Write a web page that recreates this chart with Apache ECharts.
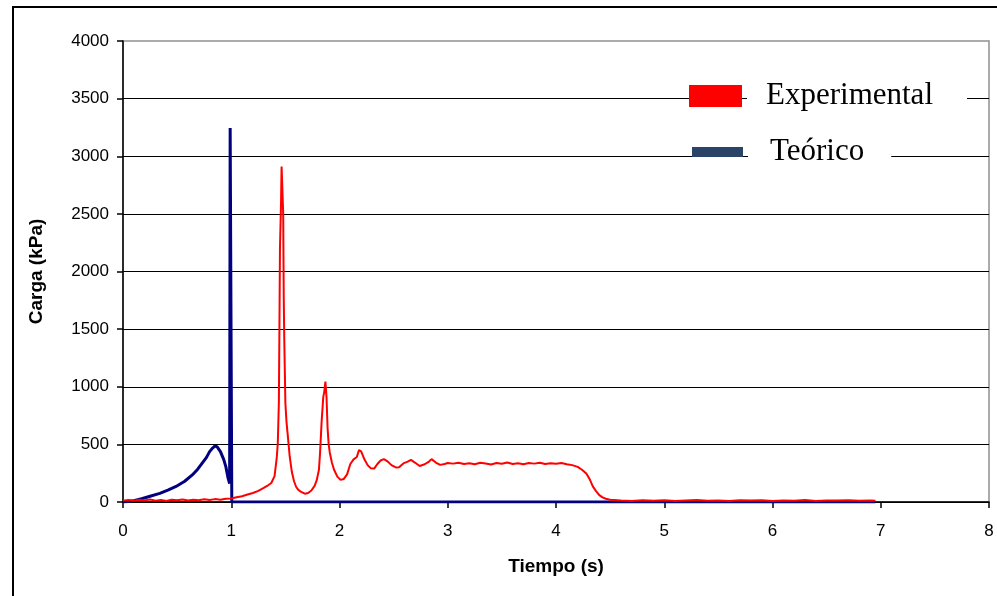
<!DOCTYPE html>
<html>
<head>
<meta charset="utf-8">
<script src="https://cdn.jsdelivr.net/npm/echarts@6/dist/echarts.min.js"></script>
<style>html,body{margin:0;padding:0;background:#fff}#c{width:997px;height:596px}</style>
</head>
<body>
<div id="c"></div>
<script>
const xTicks = [0, 1, 2, 3, 4, 5, 6, 7, 8];
const yTicks = [0, 500, 1000, 1500, 2000, 2500, 3000, 3500, 4000];
const seriesNames = ['Experimental', 'Teórico'];

const teoTime = [0, 0.05, 0.1, 0.18, 0.25, 0.34, 0.42, 0.49, 0.57, 0.64, 0.69, 0.73, 0.77, 0.80, 0.83, 0.85, 0.87, 0.90, 0.93, 0.95, 0.97, 0.985, 0.99, 1.005, 1.005, 1.5, 2, 3, 4, 5, 6, 6.95];
const teoLoad = [0, 5, 12, 30, 50, 75, 105, 135, 180, 235, 285, 335, 385, 437, 470, 486, 478, 437, 370, 307, 210, 160, 3245, 3245, 0, 0, 0, 0, 0, 0, 0, 0];

const expTime = [0.00, 0.05, 0.10, 0.15, 0.20, 0.25, 0.30, 0.35, 0.40, 0.45, 0.50, 0.55, 0.60, 0.65, 0.70, 0.75, 0.80, 0.85, 0.90, 0.95,
  1.00, 1.05, 1.10, 1.15, 1.20, 1.25, 1.30, 1.34, 1.37, 1.40, 1.42, 1.43, 1.44, 1.445, 1.45, 1.455, 1.46, 1.465, 1.475, 1.48,
  1.485, 1.49, 1.50, 1.51, 1.52, 1.54, 1.56, 1.58, 1.60, 1.62, 1.65, 1.68, 1.71, 1.74, 1.77, 1.79, 1.81, 1.82, 1.835, 1.85,
  1.86, 1.87, 1.875, 1.88, 1.89, 1.90, 1.91, 1.93, 1.95, 1.98, 2.01, 2.04, 2.07, 2.10, 2.13, 2.16, 2.18, 2.20, 2.23, 2.26,
  2.29, 2.32, 2.35, 2.38, 2.41, 2.44, 2.48, 2.52, 2.55, 2.59, 2.63, 2.66, 2.70, 2.74, 2.78, 2.82, 2.85, 2.89, 2.93, 2.97,
  3.00, 3.05, 3.10, 3.15, 3.20, 3.25, 3.30, 3.35, 3.40, 3.45, 3.50, 3.55, 3.60, 3.65, 3.70, 3.75, 3.80, 3.85, 3.90, 3.95,
  4.00, 4.05, 4.10, 4.15, 4.20, 4.24, 4.28, 4.31, 4.34, 4.37, 4.40, 4.43, 4.46, 4.50, 4.60, 4.70, 4.80, 4.90, 5.00, 5.10,
  5.20, 5.30, 5.40, 5.50, 5.60, 5.70, 5.80, 5.90, 6.00, 6.10, 6.20, 6.30, 6.40, 6.50, 6.60, 6.70, 6.80, 6.90, 6.95];
const expLoad = [12, 18, 10, 20, 14, 22, 12, 18, 9, 20, 15, 22, 13, 19, 16, 24, 18, 25, 20, 28,
  30, 42, 50, 65, 78, 96, 122, 145, 165, 225, 380, 510, 870, 1500, 2200, 2210, 2600, 2910, 2910, 2500,
  1770, 1400, 860, 700, 600, 395, 260, 180, 130, 105, 85, 72, 78, 100, 140, 190, 280, 420, 700, 910,
  960, 1045, 1040, 910, 640, 500, 430, 340, 280, 220, 192, 200, 240, 330, 370, 390, 450, 440, 370, 320,
  292, 290, 330, 360, 372, 355, 320, 300, 302, 335, 350, 365, 340, 312, 325, 345, 372, 342, 322, 330,
  338, 333, 341, 330, 337, 328, 340, 334, 326, 339, 332, 342, 330, 336, 327, 338, 333, 341, 329, 336,
  331, 338, 327, 320, 305, 280, 248, 200, 135, 95, 60, 40, 28, 20, 14, 9, 16, 11, 15, 8,
  13, 17, 10, 14, 9, 15, 12, 16, 8, 13, 11, 17, 9, 14, 12, 15, 10, 12, 10];

const pairs = (xs, ys) => xs.map((x, i) => [x, ys[i]]);

const chart = echarts.init(document.getElementById('c'), null, {renderer: 'canvas'});
chart.setOption({
  animation: false,
  backgroundColor: '#fff',
  graphic: [{
    type: 'rect', z: -10, silent: true,
    shape: {x: 13, y: 7, width: 1000, height: 620},
    style: {fill: 'none', stroke: '#000', lineWidth: 2}
  }],
  grid: {left: 123, right: 8, top: 41, bottom: 94, show: true, borderColor: '#909090', borderWidth: 1.5, backgroundColor: 'transparent'},
  legend: [{
    data: [{name: seriesNames[0], itemStyle: {color: '#ff0000'}}],
    left: 689, top: 79, padding: 0, icon: 'rect', itemWidth: 53, itemHeight: 22, selectedMode: false,
    itemStyle: {borderWidth: 0},
    textStyle: {fontFamily: 'Liberation Serif', fontSize: 31, color: '#000', backgroundColor: '#fff', padding: [0, 34, 0, 19], lineHeight: 34}
  }, {
    data: [{name: seriesNames[1], itemStyle: {color: '#2a4468'}}],
    left: 692, top: 135, padding: 0, icon: 'rect', itemWidth: 51, itemHeight: 10, selectedMode: false,
    itemStyle: {borderWidth: 0},
    textStyle: {fontFamily: 'Liberation Serif', fontSize: 31, color: '#000', backgroundColor: '#fff', padding: [0, 27, 0, 22], lineHeight: 34}
  }],
  xAxis: {
    type: 'value', min: xTicks[0], max: xTicks[xTicks.length - 1], interval: 1,
    name: 'Tiempo (s)', nameLocation: 'middle', nameGap: 55,
    nameTextStyle: {fontFamily: 'Liberation Sans', fontSize: 19, fontWeight: 'bold', color: '#000'},
    axisLine: {lineStyle: {color: '#000', width: 1.5}},
    axisTick: {show: true, inside: false, length: 6, lineStyle: {color: '#000', width: 1.5}},
    axisLabel: {fontFamily: 'Liberation Sans', fontSize: 17, color: '#000', margin: 21, formatter: v => String(v)},
    splitLine: {show: false}
  },
  yAxis: {
    type: 'value', min: yTicks[0], max: yTicks[yTicks.length - 1], interval: 500,
    name: 'Carga (kPa)', nameLocation: 'middle', nameGap: 77, nameRotate: 90,
    nameTextStyle: {fontFamily: 'Liberation Sans', fontSize: 19, fontWeight: 'bold', color: '#000'},
    axisLine: {show: true, lineStyle: {color: '#000', width: 1.5}},
    axisTick: {show: true, inside: false, length: 6, lineStyle: {color: '#000', width: 1.5}},
    axisLabel: {fontFamily: 'Liberation Sans', fontSize: 17, color: '#000', margin: 14, formatter: v => String(v)},
    splitLine: {show: true, showMaxLine: false, lineStyle: {color: '#000', width: 1.2}}
  },
  series: [{
    name: seriesNames[1], type: 'line', data: pairs(teoTime, teoLoad),
    showSymbol: false, symbol: 'none', color: '#000080',
    lineStyle: {color: '#000080', width: 3}, z: 3
  }, {
    name: seriesNames[0], type: 'line', data: pairs(expTime, expLoad),
    showSymbol: false, symbol: 'none', color: '#ff0000',
    lineStyle: {color: '#ff0000', width: 2}, z: 4
  }]
});
</script>
</body>
</html>
